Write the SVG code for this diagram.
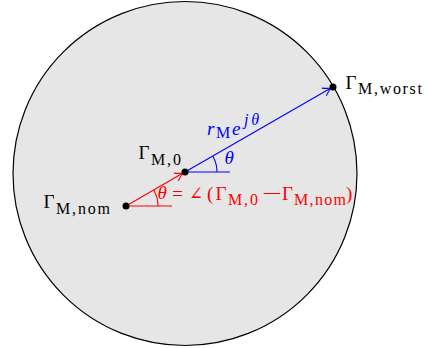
<svg xmlns="http://www.w3.org/2000/svg" width="428" height="348" viewBox="0 0 428 348">
<defs>
<style>
text{font-family:"Liberation Serif","DejaVu Serif",serif;font-size:19px}
.sub{font-size:16px}
.it{font-style:italic}
.b{fill:#0000ff}
.r{fill:#ff0000}
.blue{stroke:#0000ff;fill:none;stroke-width:1.1}
.red{stroke:#ff0000;fill:none;stroke-width:1.1}
.dot{fill:#000}
</style>
<marker id="ab" markerUnits="userSpaceOnUse" markerWidth="20" markerHeight="20" refX="10" refY="10" orient="auto" viewBox="0 0 20 20" overflow="visible">
<path d="M2,5.5 Q7,9 10,10 Q7,11 2,14.5" fill="none" stroke="#0000ff" stroke-width="1.1"/>
</marker>
<marker id="ar" markerUnits="userSpaceOnUse" markerWidth="20" markerHeight="20" refX="10" refY="10" orient="auto" viewBox="0 0 20 20" overflow="visible">
<path d="M2,5.5 Q7,9 10,10 Q7,11 2,14.5" fill="none" stroke="#ff0000" stroke-width="1.1"/>
</marker>
</defs>
<circle cx="185" cy="173.5" r="172" fill="#e6e6e6" stroke="#000" stroke-width="1.2"/>
<g id="connectors">
<line class="blue" x1="185" y1="172" x2="331" y2="88" marker-end="url(#ab)"/>
<line class="blue" x1="185" y1="172" x2="230" y2="172"/>
<path class="blue" d="M217,172 A32,32 0 0 0 212.7,156"/>
<line class="red" x1="126" y1="206" x2="183" y2="173" marker-end="url(#ar)"/>
<line class="red" x1="126" y1="206" x2="172" y2="206"/>
<path class="red" d="M158,206 A32,32 0 0 0 153.7,190"/>
</g>
<g id="worst">
<circle class="dot" cx="333" cy="87" r="3.5"/>
<text x="345.5" y="88.5">Γ</text>
<text class="sub" x="358" y="94" textLength="64" lengthAdjust="spacing">M,worst</text>
</g>
<g id="g0">
<circle class="dot" cx="185" cy="172" r="3.5"/>
<text x="138.5" y="159">Γ</text>
<text class="sub" x="151" y="164.5" textLength="30" lengthAdjust="spacing">M,0</text>
</g>
<g id="nom">
<circle class="dot" cx="126" cy="206" r="3.5"/>
<text x="43.5" y="208">Γ</text>
<text class="sub" x="56" y="213.5" textLength="54" lengthAdjust="spacing">M,nom</text>
</g>
<g id="labels">
<text class="b it" x="207" y="135" font-size="20">r</text>
<text class="b sub" x="216" y="138">M</text>
<text class="b it" x="232" y="135" font-size="20">e</text>
<text class="b it sub" x="244" y="125" textLength="15" lengthAdjust="spacing">jθ</text>
<text class="b it" x="224.5" y="164">θ</text>
<text class="r it" x="157.5" y="198.5">θ</text>
<text class="r" x="172" y="199.5" textLength="11" lengthAdjust="spacingAndGlyphs">=</text>
<text class="r" x="189" y="199.5" textLength="14" lengthAdjust="spacingAndGlyphs">∠</text>
<text class="r" x="207" y="199.5">(</text>
<text class="r" x="215.5" y="199.5">Γ</text>
<text class="r sub" x="228" y="205" textLength="30" lengthAdjust="spacing">M,0</text>
<text class="r" x="262" y="199.5" textLength="20" lengthAdjust="spacingAndGlyphs">−</text>
<text class="r" x="282" y="199.5">Γ</text>
<text class="r sub" x="294" y="205" textLength="52" lengthAdjust="spacing">M,nom</text>
<text class="r" x="346" y="199.5">)</text>
</g>
</svg>
